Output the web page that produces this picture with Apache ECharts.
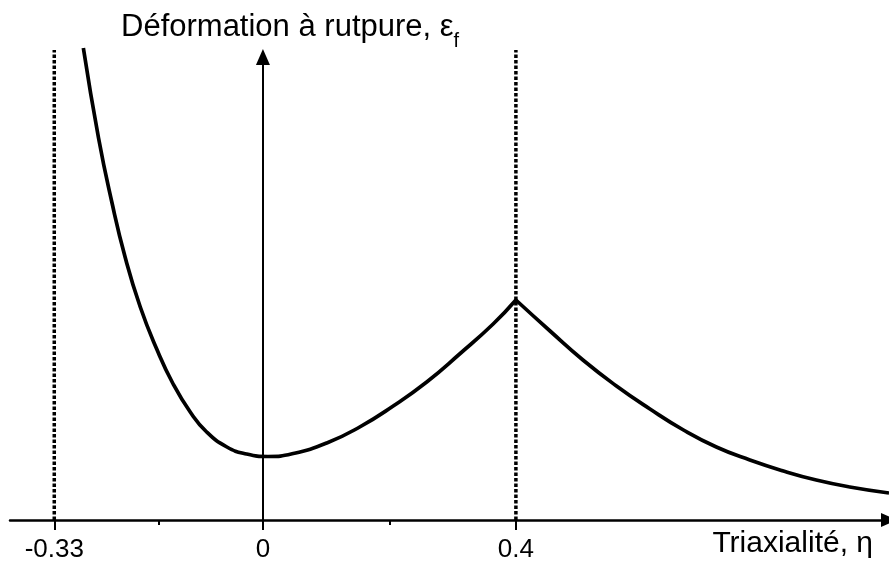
<!DOCTYPE html>
<html>
<head>
<meta charset="utf-8">
<script src="https://cdn.jsdelivr.net/npm/echarts@6/dist/echarts.min.js"></script>
<style>html,body{margin:0;padding:0;background:#fff}#c{width:889px;height:566px}</style>
</head>
<body>
<div id="c"></div>
<script>
// Data
const leftBranchX  = [-0.284,-0.260,-0.239,-0.218,-0.194,-0.168,-0.142,-0.115,-0.089,-0.057,-0.026,0.008,0.048,0.101,0.153,0.206,0.259,0.311,0.364,0.400];
const leftBranchY  = [4.72,3.82,3.18,2.63,2.13,1.71,1.36,1.08,0.88,0.73,0.66,0.635,0.665,0.77,0.93,1.14,1.38,1.66,1.96,2.20];
const rightBranchX = [0.400,0.454,0.506,0.559,0.612,0.665,0.717,0.770,0.823,0.875,0.928,0.990];
const rightBranchY = [2.20,1.89,1.60,1.34,1.11,0.90,0.73,0.60,0.49,0.40,0.33,0.27];
const guideX = [-0.33, 0.4];
const guideTop = 4.70;
const majorTicks = [-0.33, 0, 0.4];
const minorTicks = [-0.165, 0.2];
const xTitle = 'Triaxialité, η';
const yTitle = 'Déformation à rutpure, ε';
const ySub = 'f';

const zip = (xs, ys) => xs.map((x, i) => [x, ys[i]]);
const font = 'Liberation Sans, Arial, sans-serif';

const series = [
  {type:'line', data: zip(leftBranchX, leftBranchY), smooth: true,
   showSymbol:false, clip:false, lineStyle:{color:'#000', width:3.7}},
  {type:'line', data: zip(rightBranchX, rightBranchY), smooth: true,
   showSymbol:false, clip:false, lineStyle:{color:'#000', width:3.7}}
];
guideX.forEach(gx => series.push({
  type:'line', data:[[gx,0],[gx,guideTop]], showSymbol:false, clip:false, z:1,
  lineStyle:{color:'#000', width:3.5, type:[3.5,2]}
}));

const chart = echarts.init(document.getElementById('c'));
chart.setOption({
  animation:false,
  backgroundColor:'#fff',
  title:[
    {text: '{m|' + yTitle + '}{sub|' + ySub + '}', left:121, top:9, padding:0,
     textStyle:{fontSize:31, fontWeight:'normal', color:'#000', fontFamily:font, lineHeight:36,
       rich:{
         m:{fontSize:31, color:'#000', fontFamily:font, lineHeight:36},
         sub:{fontSize:20, color:'#000', fontFamily:font, lineHeight:36, padding:[28,0,0,0]}
       }}},
    {text: xTitle, right:16, top:527, padding:0,
     textStyle:{fontSize:30, fontWeight:'normal', color:'#000', fontFamily:font, lineHeight:34}}
  ],
  grid:{left:10, right:0, top:57, bottom:46, containLabel:false},
  xAxis:[
    {type:'value', min:-0.4, max:0.99, position:'bottom',
     axisLine:{show:true, lineStyle:{color:'#000', width:2.5}, symbol:['none','triangle'], symbolSize:[14,16]},
     axisTick:{show:true, customValues: majorTicks, length:10, lineStyle:{color:'#000', width:2}},
     axisLabel:{show:true, customValues: majorTicks, margin:17, fontSize:26, color:'#000', fontFamily:font,
       formatter: v => String(v)},
     splitLine:{show:false}},
    {type:'value', min:-0.4, max:0.99, position:'bottom',
     axisLine:{show:false},
     axisTick:{show:true, customValues: minorTicks, length:5, lineStyle:{color:'#000', width:2}},
     axisLabel:{show:false},
     splitLine:{show:false}}
  ],
  yAxis:{type:'value', min:0, max:4.63,
     axisLine:{show:true, onZero:true, lineStyle:{color:'#000', width:2}, symbol:['none','triangle'], symbolSize:[14,16]},
     axisTick:{show:false}, axisLabel:{show:false}, splitLine:{show:false}},
  series: series
});
</script>
</body>
</html>
